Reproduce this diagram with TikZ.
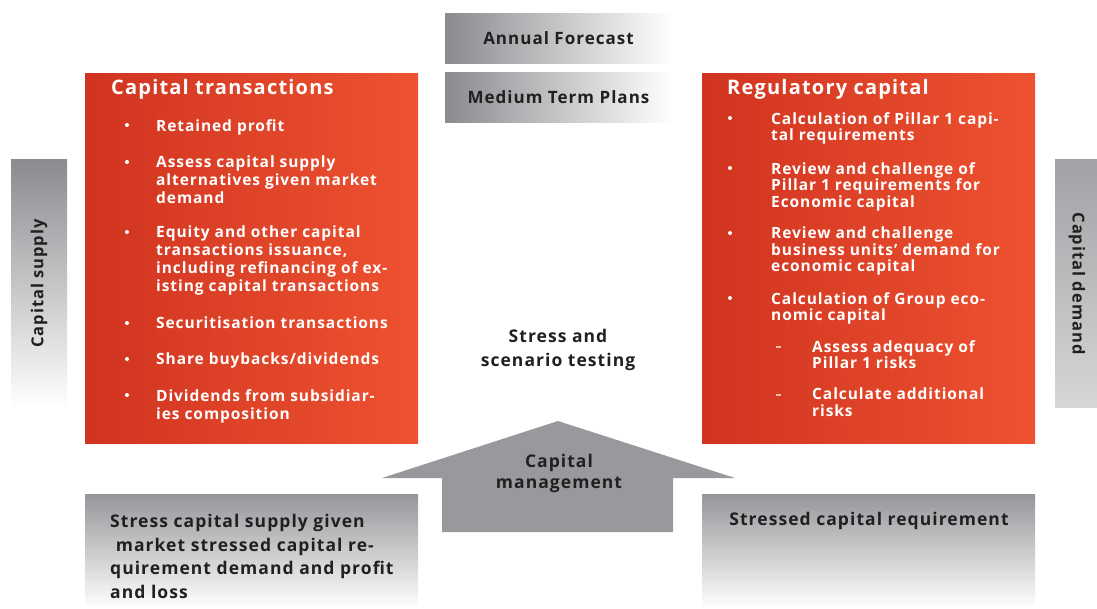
\documentclass[tikz,border=0pt]{standalone}
\usepackage{fontspec}
\usepackage{xcolor}
\usepackage{tikz}
\setmainfont{Open Sans}[LetterSpace=6]
\usetikzlibrary{positioning}
\definecolor{redL}{RGB}{208,52,32}
\definecolor{redR}{RGB}{238,82,48}
\definecolor{greyD}{RGB}{138,139,143}
\definecolor{greyA}{RGB}{152,153,157}
\definecolor{inkD}{RGB}{35,31,32}
\tikzstyle{panel} = [rectangle, anchor=north west, inner sep=0pt, left color=redL, right color=redR, minimum width=333pt, minimum height=370pt]
\tikzstyle{plan} = [rectangle, inner sep=0pt, left color=greyD, right color=white, minimum width=227pt, minimum height=50pt, text=inkD, font=\bfseries\fontsize{17}{20}\selectfont]
\tikzstyle{stress} = [rectangle, anchor=north west, inner sep=0pt, top color=greyD!90, bottom color=white, minimum width=333pt, minimum height=114pt]
\tikzstyle{sidebar} = [rectangle, inner sep=0pt, text=inkD, font=\bfseries\fontsize{16.5}{19}\selectfont]
\tikzstyle{paneltitle} = [anchor=north west, inner sep=0pt, text=white, font=\bfseries\fontsize{20}{23}\selectfont]
\tikzstyle{item} = [anchor=north west, inner sep=0pt, align=left, text=white, font=\bfseries\fontsize{15.5}{18}\selectfont]
\tikzstyle{ritem} = [item, font=\bfseries\fontsize{15.5}{16.5}\selectfont]
\tikzstyle{dot} = [circle, fill=white, inner sep=0pt, minimum size=4pt]
\tikzstyle{subdash} = [rectangle, fill=white!60!redR, inner sep=0pt, minimum width=5pt, minimum height=1.8pt]
\tikzstyle{greytext} = [inner sep=0pt, align=left, text=inkD, font=\bfseries\fontsize{17.5}{23.5}\selectfont]

\begin{document}
\begin{tikzpicture}[x=1pt, y=-1pt]
\useasboundingbox (0,0) rectangle (1097,608);

% plans on top
\node[plan] (annual) at (558.5,38) {Annual Forecast};
\node[plan, below=9pt of annual] (medium) {Medium Term Plans};

% side bars
\node[sidebar, rotate=90, minimum width=249pt, minimum height=56pt, top color=greyD, bottom color=white] (supply) at (39,283.5) {Capital supply};
\node[sidebar, rotate=-90, minimum width=248pt, minimum height=44pt, top color=greyD!80, bottom color=greyD!35] (demand) at (1077,283.5) {Capital demand};

% red panels
\node[panel] (captrans) at (85,73) {};
\node[panel] (regcap) at (702,73) {};

\node[paneltitle] (captitle) at (111,79) {Capital transactions};
\node[item] (lt1) at (156,119) {Retained profit};
\node[item] (lt2) at (156,156) {Assess capital supply\\alternatives given market\\demand};
\node[item] (lt3) at (156,226) {Equity and other capital\\transactions issuance,\\including refinancing of ex-\\isting capital transactions};
\node[item] (lt4) at (156,317) {Securitisation transactions};
\node[item] (lt5) at (156,353) {Share buybacks/dividends};
\node[item] (lt6) at (156,389) {Dividends from subsidiar-\\ies composition};
\node[dot] (lb1) at (127,125) {};
\node[dot] (lb2) at (127,162) {};
\node[dot] (lb3) at (127,232) {};
\node[dot] (lb4) at (127,323) {};
\node[dot] (lb5) at (127,359) {};
\node[dot] (lb6) at (127,395) {};

\node[paneltitle] (regtitle) at (727,79) {Regulatory capital};
\node[ritem] (rt1) at (771,112) {Calculation of Pillar 1 capi-\\tal requirements};
\node[ritem] (rt2) at (771,162) {Review and challenge of\\Pillar 1 requirements for\\Economic capital};
\node[ritem] (rt3) at (771,227) {Review and challenge\\business units’ demand for\\economic capital};
\node[ritem] (rt4) at (771,292) {Calculation of Group eco-\\nomic capital};
\node[ritem] (rt5) at (812,340) {Assess adequacy of\\Pillar 1 risks};
\node[ritem] (rt6) at (812,388) {Calculate additional\\risks};
\node[dot] (rb1) at (730,118) {};
\node[dot] (rb2) at (730,168) {};
\node[dot] (rb3) at (730,233) {};
\node[dot] (rb4) at (730,298) {};
\node[subdash] (rd5) at (778,347) {};
\node[subdash] (rd6) at (778,395) {};

% middle
\node[greytext, align=center] (stresstest) at (558,350) {Stress and\\scenario testing};
\fill[greyA] (558,421) -- (735,478) -- (673,478) -- (673,532) -- (442,532) -- (442,478) -- (382,478) -- cycle;
\node[greytext, align=center, font=\bfseries\fontsize{17.5}{21}\selectfont] (capman) at (559,473) {Capital\\management};

% stressed boxes
\node[stress] (supplystress) at (85,494) {};
\node[stress] (demandstress) at (702,494) {};
\node[greytext, anchor=north west] (supplytext) at (110,514) {Stress capital supply given\\\ market stressed capital re-\\quirement demand and profit\\and loss};
\node[greytext, anchor=north] (demandtext) at (869,512) {Stressed capital requirement};

\end{tikzpicture}
\end{document}
